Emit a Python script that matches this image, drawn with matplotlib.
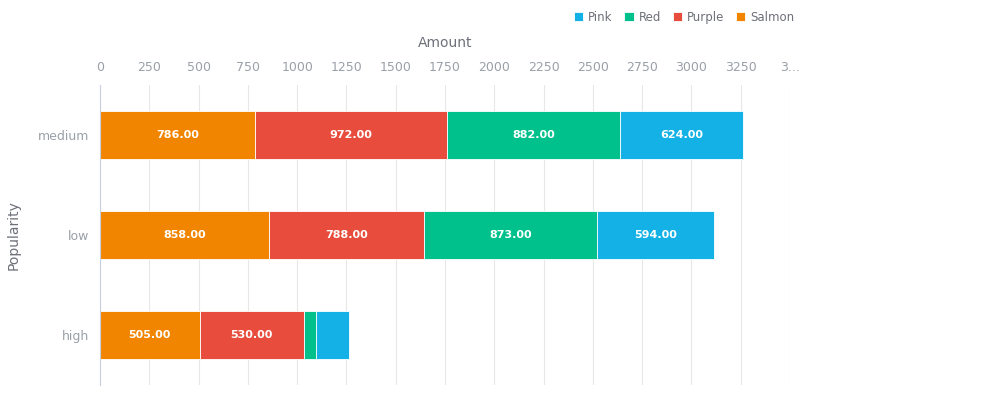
import matplotlib
matplotlib.use("Agg")
import matplotlib.pyplot as plt
import numpy as np

categories = ["high", "low", "medium"]
series = ["Salmon", "Purple", "Red", "Pink"]
values = {
    "Salmon": [505, 858, 786],
    "Purple": [530, 788, 972],
    "Red": [60, 873, 882],
    "Pink": [170, 594, 624],
}
colors = {"Salmon": "#f28500", "Purple": "#e74c3c", "Red": "#00c08b", "Pink": "#14b1e6"}
ticks = list(range(0, 3251, 250))
tick_labels = [str(t) for t in ticks]

fig = plt.figure(figsize=(10.08, 4.0), dpi=100)
ax = fig.add_axes([100/1008, 15/400, 690/1008, 300/400])
y = np.arange(len(categories))
left = np.zeros(len(categories))
for s in series:
    v = np.array(values[s], dtype=float)
    ax.barh(y, v, left=left, height=0.48, color=colors[s], label=s,
            edgecolor="white", linewidth=0.6)
    for yi, (l, w) in enumerate(zip(left, v)):
        if w > 300:
            ax.text(l + w / 2, yi, f"{w:.2f}", ha="center", va="center",
                    color="white", fontsize=8, fontweight="bold")
    left += v

ax.set_xlim(0, 3500)
ax.set_ylim(-0.5, 2.5)
ax.xaxis.tick_top()
ax.xaxis.set_label_position("top")
ax.set_xticks(ticks + [3500])
ax.set_xticklabels(tick_labels + ["3..."])
ax.set_yticks(y)
ax.set_yticklabels(categories)
ax.tick_params(axis="both", length=0, colors="#9aa0a8", labelsize=9, pad=8)
ax.set_xlabel("Amount", color="#6e7079", fontsize=10, labelpad=10)
ax.set_ylabel("Popularity", color="#6e7079", fontsize=10, labelpad=12)
ax.grid(axis="x", color="#e8e8e8", linewidth=0.8)
ax.set_axisbelow(True)
for sp in ["top", "right", "bottom"]:
    ax.spines[sp].set_visible(False)
ax.spines["left"].set_color("#c8d0e0")

handles, labels = ax.get_legend_handles_labels()
order = [3, 2, 1, 0]
fig.legend([handles[i] for i in order], [labels[i] for i in order], loc="upper center",
           bbox_to_anchor=(684/1008, 1.0), ncol=4, frameon=False, fontsize=8.5,
           handlelength=0.8, handleheight=0.8, columnspacing=1.0, handletextpad=0.4,
           labelcolor="#6e7079")
fig.savefig("out.png", dpi=100)
